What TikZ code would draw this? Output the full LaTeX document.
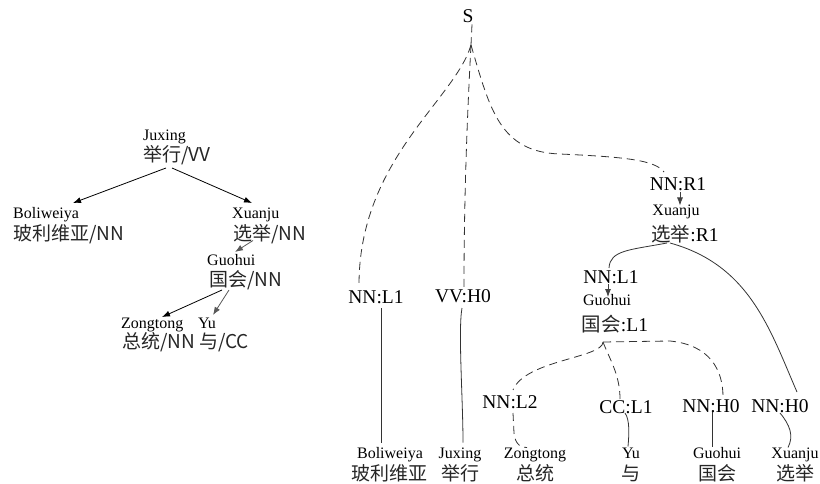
\documentclass[tikz,border=0pt]{standalone}
\usepackage{fontspec}
\setmainfont{Liberation Serif}
\newfontfamily\cjk{Noto Sans CJK SC}
\usetikzlibrary{arrows.meta,calc}
\tikzset{
  lbl/.style={inner sep=0pt,anchor=base,font=\fontsize{19.5}{20}\selectfont},
  sm/.style={inner sep=0pt,anchor=base,font=\fontsize{16}{17}\selectfont},
  zh/.style={inner sep=0pt,anchor=base,text=black!85,font=\fontsize{19}{20}\selectfont\cjk},
  dsh/.style={draw=black!80,line width=0.8pt,dash pattern=on 8pt off 5pt},
  sol/.style={draw=black!80,line width=0.8pt},
  arr/.style={draw=black,line width=0.8pt,-{Latex[length=8pt,width=6pt]}},
  garr/.style={draw=black!65,line width=0.8pt,-{Latex[length=8pt,width=6pt]}},
}
\begin{document}
\begin{tikzpicture}[x=1pt,y=-1pt]
\useasboundingbox (0,0) rectangle (820,484);
% ---------------- left tree ----------------
\node[sm,anchor=base west] (Lj) at (143,140.5) {Juxing};
\node[zh,anchor=base west] (Ljc) at (143,161.5) {举行/VV};
\node[sm,anchor=base west] (Lb) at (13,218.5) {Boliweiya};
\node[zh,anchor=base west] (Lbc) at (13,240.5) {玻利维亚/NN};
\node[sm,anchor=base west] (Lx) at (232,218.5) {Xuanju};
\node[zh,anchor=base west] (Lxc) at (233,240.5) {选举/NN};
\node[sm,anchor=base west] (Lg) at (207,265.5) {Guohui};
\node[zh,anchor=base west] (Lgc) at (209,286.5) {国会/NN};
\node[sm,anchor=base west] (Lz) at (121,328.5) {Zongtong};
\node[zh,anchor=base west] (Lzc) at (122,348.5) {总统/NN};
\node[sm,anchor=base west] (Ly) at (198,328.5) {Yu};
\node[zh,anchor=base west] (Lyc) at (199,348.5) {与/CC};
\draw[arr] ($(Ljc.base west)+(23,6.5)$) -- ($(Lb.base west)+(60,-15.5)$);
\draw[arr] ($(Ljc.base west)+(29,6.5)$) -- ($(Lx.base west)+(20,-15.5)$);
\draw[garr] ($(Lxc.base west)+(20,0)$) -- ($(Lg.base west)+(28,-13.5)$);
\draw[arr] ($(Lgc.base west)+(13,3.5)$) -- ($(Lz.base west)+(41,-11.5)$);
\draw[garr] ($(Lgc.base west)+(20,3.5)$) -- ($(Ly.base west)+(15,-13.5)$);
% ---------------- right tree ----------------
\node[lbl] (S) at (468,23) {S};
\coordinate (fork) at (471,45);
\node[lbl] (r1) at (678,190) {NN:R1};
\node[sm] (xj) at (676,215.5) {Xuanju};
\node[lbl] (xjr) at (685,241) {{\cjk\color{black!85}选举}:R1};
\node[lbl] (l1b) at (611,283) {NN:L1};
\node[sm] (gh) at (607,305.5) {Guohui};
\node[lbl] (ghl) at (615,331) {{\cjk\color{black!85}国会}:L1};
\coordinate (gfork) at (603,342);
\node[lbl] (l1a) at (376,303) {NN:L1};
\node[lbl] (vv) at (463,302) {VV:H0};
\node[lbl] (l2) at (510,408) {NN:L2};
\node[lbl] (cc) at (626,413) {CC:L1};
\node[lbl] (h0a) at (711,412) {NN:H0};
\node[lbl] (h0b) at (780,412) {NN:H0};
% words
\node[sm] (w1) at (390,458.5) {Boliweiya};
\node[zh] (c1) at (389,480.5) {玻利维亚};
\node[sm] (w2) at (460,458.5) {Juxing};
\node[zh] (c2) at (460,480.5) {举行};
\node[sm] (w3) at (535,458.5) {Zongtong};
\node[zh] (c3) at (535,480.5) {总统};
\node[sm] (w4) at (631,458.5) {Yu};
\node[zh] (c4) at (631,480.5) {与};
\node[sm] (w5) at (717,458.5) {Guohui};
\node[zh] (c5) at (717,480.5) {国会};
\node[sm] (w6) at (795,458.5) {Xuanju};
\node[zh] (c6) at (795,480.5) {选举};
% dashed from S
\draw[dsh] ($(S.south)+(4,1)$) -- (fork);
\draw[dsh] (fork) .. controls (455,100) and (358,160) .. ($(l1a.base)+(-17,-16)$);
\draw[dsh] (fork) .. controls (467,120) and (464,200) .. ($(vv.base)+(1,-15)$);
\draw[dsh] (fork) .. controls (490,110) and (500,152) .. (560,154)
  .. controls (625,157) and (655,160) .. ($(r1.base)+(-14,-18)$);
% arrows inside right tree
\draw[garr,draw=black!75] ($(r1.base)+(2,2)$) -- ($(xj.base)+(4,-10)$);
\draw[garr,draw=black!75] ($(l1b.base)+(-3,1)$) -- ($(gh.base)+(1,-8.5)$);
% solid from xuanju
\draw[sol] ($(xjr.base)+(-18,2)$) .. controls (630,250) and (610,250) .. ($(l1b.base)+(-2,-15)$);
\draw[sol] ($(xjr.base)+(-15,2)$) .. controls (750,265) and (770,330) .. ($(h0b.base)+(17,-20)$);
% dashed from guohui
\draw[dsh] (gfork) .. controls (603,358) and (525,360) .. ($(l2.base)+(3,-18)$);
\draw[dsh] (gfork) .. controls (610,360) and (620,375) .. ($(cc.base)+(-6,-14)$);
\draw[dsh] (gfork) -- (670,341) .. controls (710,345) and (723,370) .. ($(h0a.base)+(12,-15)$);
% label to word
\draw[sol] ($(l1a.base)+(5,5)$) -- ($(w1.base)+(-9,-16)$);
\draw[sol] ($(vv.base)+(-1,6)$) .. controls (458,330) and (463,400) .. ($(w2.base)+(3,-16)$);
\draw[dsh] ($(l2.base)+(3,5)$) -- (514,433) .. controls (515,445) and (522,448) .. ($(w3.base)+(-8,-11)$);
\draw[sol] ($(cc.base)+(-1,0)$) .. controls (630,420) and (629,435) .. ($(w4.base)+(-3,-12)$);
\draw[sol] ($(h0a.base)+(1,0)$) -- ($(w5.base)+(-5,-12)$);
\draw[sol] ($(h0b.base)+(0,1)$) .. controls (790,425) and (794,436) .. ($(w6.base)+(-7,-11)$);
\end{tikzpicture}
\end{document}
